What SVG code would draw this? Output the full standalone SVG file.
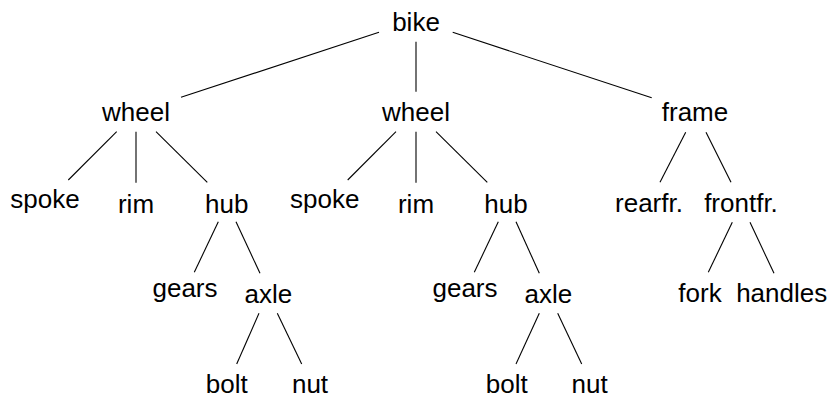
<svg xmlns="http://www.w3.org/2000/svg" width="832" height="395" viewBox="0 0 832 395">
<style>
text{font-family:"Liberation Sans",Arial,sans-serif;font-size:26px;fill:#000;text-anchor:middle}
line{stroke:#000;stroke-width:1.1}
</style>
<rect width="832" height="395" fill="#fff"/>
<g id="connectors">
<line x1="379" y1="32.3" x2="181" y2="97.3"/>
<line x1="416" y1="41.7" x2="416" y2="91.7"/>
<line x1="452.7" y1="32.3" x2="651.7" y2="97.7"/>
<line x1="116.7" y1="131.7" x2="68.3" y2="180"/>
<line x1="136" y1="131.7" x2="136" y2="182.7"/>
<line x1="156" y1="131.7" x2="207.3" y2="182.3"/>
<line x1="396" y1="131.7" x2="347.7" y2="180"/>
<line x1="416" y1="131.7" x2="416" y2="182.7"/>
<line x1="436" y1="131.7" x2="487.3" y2="182.3"/>
<line x1="685.7" y1="132.3" x2="660" y2="182.3"/>
<line x1="706" y1="132.3" x2="731" y2="182.3"/>
<line x1="218.3" y1="221.7" x2="194.3" y2="272.3"/>
<line x1="236" y1="221.7" x2="260" y2="273.3"/>
<line x1="259" y1="313.3" x2="236.7" y2="364"/>
<line x1="277.3" y1="313.3" x2="301.7" y2="364"/>
<line x1="498.3" y1="221.7" x2="474.3" y2="272.3"/>
<line x1="516" y1="221.7" x2="539.3" y2="273.3"/>
<line x1="539.3" y1="313.3" x2="516" y2="364"/>
<line x1="557.7" y1="313.3" x2="581.7" y2="364"/>
<line x1="732.3" y1="222.3" x2="708.3" y2="272.3"/>
<line x1="750" y1="222.3" x2="774" y2="273.3"/>
</g>
<g id="bike"><text x="416" y="31">bike</text></g>
<g id="wheel1"><text x="136" y="121">wheel</text></g>
<g id="wheel2"><text x="416" y="121">wheel</text></g>
<g id="frame"><text x="695" y="121">frame</text></g>
<g id="spoke1"><text x="45" y="208">spoke</text></g>
<g id="rim1"><text x="136" y="212.5">rim</text></g>
<g id="hub1"><text x="226.7" y="212.5">hub</text></g>
<g id="spoke2"><text x="324.7" y="208">spoke</text></g>
<g id="rim2"><text x="416" y="212.5">rim</text></g>
<g id="hub2"><text x="506" y="212.5">hub</text></g>
<g id="rearfr"><text x="649" y="212">rearfr.</text></g>
<g id="frontfr"><text x="741" y="212">frontfr.</text></g>
<g id="gears1"><text x="185" y="297">gears</text></g>
<g id="axle1"><text x="268.3" y="303">axle</text></g>
<g id="gears2"><text x="465" y="297">gears</text></g>
<g id="axle2"><text x="548.3" y="303">axle</text></g>
<g id="fork"><text x="700" y="302">fork</text></g>
<g id="handles"><text x="781.7" y="302">handles</text></g>
<g id="bolt1"><text x="226.7" y="393">bolt</text></g>
<g id="nut1"><text x="310" y="393">nut</text></g>
<g id="bolt2"><text x="506.7" y="393">bolt</text></g>
<g id="nut2"><text x="589.7" y="393">nut</text></g>
</svg>
